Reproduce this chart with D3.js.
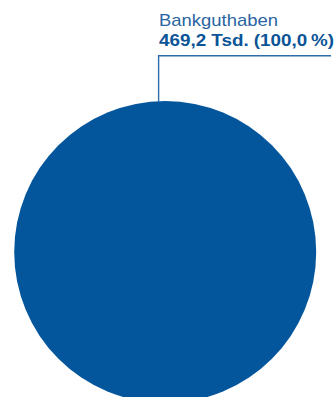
<!DOCTYPE html>
<html><head><meta charset="utf-8">
<script src="https://cdn.jsdelivr.net/npm/d3@7"></script>
<style>html,body{margin:0;padding:0;background:#fff;}svg{display:block;}</style>
</head><body>
<script>
const categories = ["Bankguthaben"];
const values = [469.2];
const valueLabels = ["469,2 Tsd. (100,0\u2009%)"];
const colors = ["#04569c"];

const W = 336, H = 397;
const svg = d3.select("body").append("svg").attr("width", W).attr("height", H);

const cx = 165.2, cy = 252, r = 151;
const pie = d3.pie().sort(null).value(d => d)(values);
const arc = d3.arc().innerRadius(0).outerRadius(r);
const g = svg.append("g").attr("transform", `translate(${cx},${cy})`);
g.selectAll("path").data(pie).join("path")
  .attr("d", arc).attr("fill", (d, i) => colors[i]);

// leader line
const ang = -2.5 * Math.PI / 180;
const px = cx + r * Math.sin(ang), py = cy - r * Math.cos(ang);
svg.append("path")
  .attr("d", `M${px},${py + 1}V55.7H331`)
  .attr("fill", "none").attr("stroke", "#2f6cab").attr("stroke-width", 1.4);

svg.append("text").attr("x", 159).attr("y", 26)
  .attr("font-family", "Liberation Sans, Arial, sans-serif")
  .attr("font-size", 17).attr("fill", "#2a65a3")
  .attr("textLength", 119).attr("lengthAdjust", "spacingAndGlyphs")
  .text(categories[0]);
svg.append("text").attr("x", 159).attr("y", 45.5)
  .attr("font-family", "Liberation Sans, Arial, sans-serif")
  .attr("font-size", 16.5).attr("font-weight", "bold").attr("fill", "#0b5497")
  .attr("textLength", 175).attr("lengthAdjust", "spacingAndGlyphs")
  .text(valueLabels[0]);
</script>
</body></html>
